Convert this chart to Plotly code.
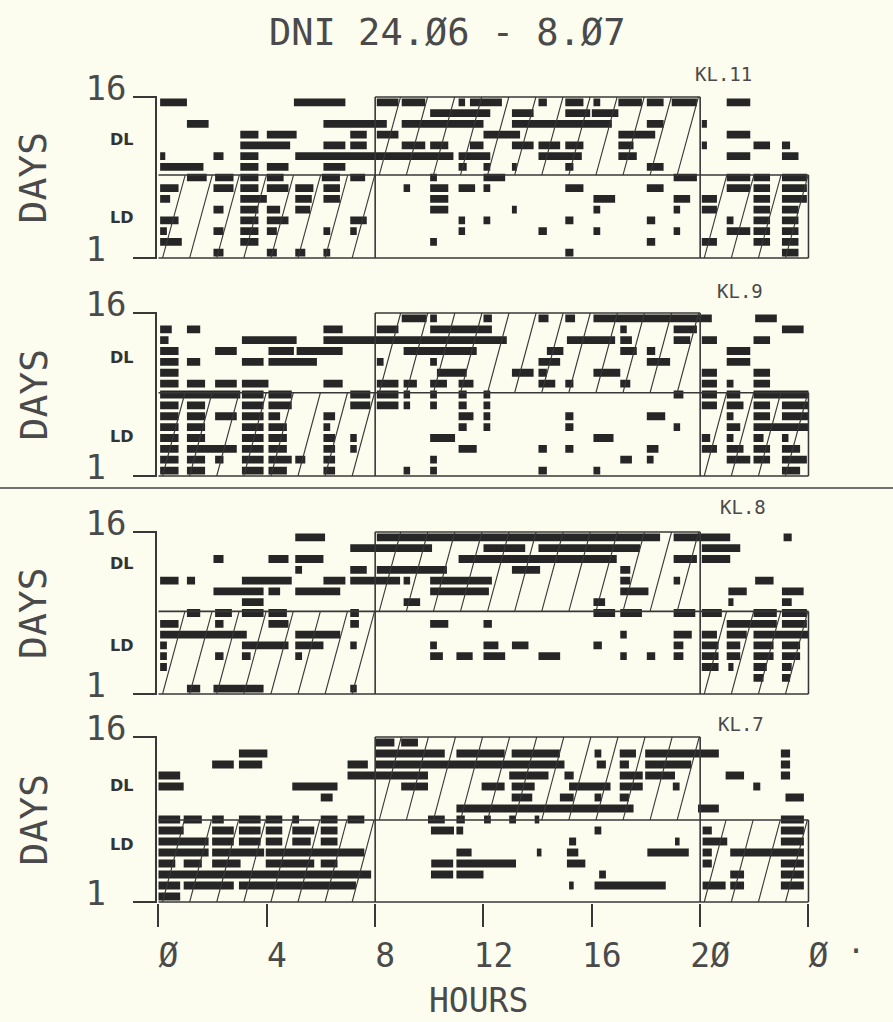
import math
import plotly.graph_objects as go

# ---------------- data ----------------
HOUR_TICKS = [0, 4, 8, 12, 16, 20, 24]
HOUR_LABELS = ["Ø", "4", "8", "12", "16", "2Ø", "Ø"]
DAY_TICKS = [1, 16]
DAY_LABELS = ["1\u00a0", "16"]
TITLE = "DNI 24.Ø6 - 8.Ø7"
PANEL_NAMES = ["KL.11", "KL.9", "KL.8", "KL.7"]
DL_DARK = (8, 20)            # dark hours during DL phase
LD_DARK = [(0, 8), (20, 24)]  # dark hours during LD phase
SWITCH_DAY = [8.73, 8.66, 8.65, 8.45]   # LD -> DL change (day axis)

# activity bouts per day (day 1 first): [start_hour, end_hour]
KL11 = [
    [[2.03, 2.4], [4.0, 4.37], [5.05, 5.42], [6.09, 6.34], [15.02, 15.32], [23.02, 23.63]],
    [[0.06, 0.86], [3.02, 3.69], [10.03, 10.28], [18.03, 18.34], [20.06, 20.62], [21.97, 22.58], [23.02, 23.63]],
    [[0.06, 0.31], [2.03, 2.4], [3.02, 3.69], [4.0, 4.37], [6.09, 6.34], [7.08, 7.32], [11.08, 11.32], [14.03, 14.34], [16.06, 16.31], [19.02, 19.26], [20.98, 21.85], [21.97, 22.58], [23.02, 23.63]],
    [[0.06, 0.74], [3.02, 3.69], [4.0, 4.8], [7.08, 7.69], [11.08, 11.32], [12.0, 12.25], [15.02, 15.32], [18.03, 18.34], [20.98, 21.23], [21.97, 22.58], [23.02, 23.63]],
    [[2.03, 2.4], [3.02, 3.69], [4.0, 4.49], [5.05, 5.6], [10.03, 10.7], [13.05, 13.23], [16.06, 16.31], [19.02, 19.26], [20.06, 20.62], [21.97, 22.58], [23.02, 23.63]],
    [[0.06, 0.43], [3.02, 4.0], [5.05, 5.66], [6.09, 6.7], [10.03, 10.7], [16.06, 16.86], [19.02, 19.63], [20.06, 20.62], [21.97, 22.58], [23.02, 23.94]],
    [[0.06, 0.74], [2.03, 2.77], [3.02, 3.69], [4.0, 4.8], [5.05, 5.72], [6.09, 6.7], [9.05, 9.29], [10.03, 10.7], [11.08, 11.69], [12.0, 12.25], [15.02, 15.69], [18.03, 18.65], [20.98, 21.85], [21.97, 22.58], [23.02, 23.94]],
    [[1.05, 1.78], [2.09, 2.77], [3.02, 3.69], [4.0, 4.62], [6.03, 6.7], [7.08, 7.63], [10.03, 10.28], [12.0, 12.8], [19.02, 19.88], [20.98, 21.85], [21.97, 22.58], [23.02, 23.94]],
    [[0.06, 1.66], [3.02, 3.69], [4.0, 4.8], [6.09, 6.9], [11.08, 11.38], [12.0, 12.25], [13.05, 13.23], [15.02, 15.32], [18.03, 18.65]],
    [[0.06, 0.25], [2.03, 2.4], [3.02, 3.69], [5.05, 10.89], [11.08, 12.25], [14.03, 15.63], [16.98, 17.66], [20.98, 21.85], [23.02, 23.63]],
    [[3.02, 4.86], [6.09, 6.9], [7.08, 7.69], [8.98, 9.85], [10.03, 10.7], [11.5, 12.0], [13.05, 13.85], [14.03, 14.83], [15.02, 15.69], [16.98, 17.54], [20.06, 20.25], [21.97, 22.58], [23.02, 23.32]],
    [[3.02, 3.69], [4.0, 5.1], [7.08, 7.69], [8.06, 8.86], [12.0, 13.35], [16.98, 18.34], [20.98, 21.85]],
    [[1.05, 1.85], [6.09, 8.43], [8.98, 12.0], [13.05, 16.74], [18.03, 18.65], [20.06, 20.25]],
    [[10.03, 12.25], [13.05, 13.85], [15.02, 15.94], [16.0, 16.98]],
    [[0.06, 1.05], [5.0, 6.9], [8.06, 8.86], [8.98, 9.85], [11.08, 11.32], [11.5, 12.68], [14.03, 14.34], [15.02, 15.69], [16.06, 16.31], [16.98, 17.85], [18.03, 18.65], [18.95, 19.88], [20.98, 21.85]],
]

KL9 = [
    [[0.06, 0.74], [1.05, 1.72], [3.08, 3.88], [4.06, 4.74], [6.09, 6.52], [9.05, 9.29], [10.03, 10.28], [14.03, 14.34], [16.06, 16.31], [23.02, 23.69]],
    [[0.06, 0.74], [1.05, 1.72], [2.09, 2.4], [3.08, 3.88], [4.06, 4.92], [5.05, 5.42], [6.09, 6.52], [10.03, 10.28], [17.05, 17.48], [18.03, 18.28], [20.98, 21.85], [21.97, 22.58], [23.02, 23.94]],
    [[0.06, 0.74], [1.05, 2.89], [3.08, 3.88], [4.06, 4.74], [6.09, 6.52], [7.08, 7.32], [11.08, 11.75], [14.03, 14.34], [15.02, 15.32], [18.03, 18.46], [20.06, 20.62], [20.98, 21.6], [21.97, 22.58], [23.02, 23.69]],
    [[0.06, 0.74], [1.05, 1.72], [3.08, 3.88], [4.06, 4.74], [6.09, 6.52], [7.08, 7.32], [10.03, 10.95], [16.06, 16.8], [20.06, 20.37], [20.98, 21.23], [21.97, 22.34], [23.02, 23.26]],
    [[0.06, 0.74], [1.05, 1.72], [3.08, 3.88], [4.06, 4.74], [6.09, 6.34], [11.08, 11.38], [12.0, 12.25], [15.02, 15.32], [19.02, 19.26], [20.98, 21.48], [21.97, 24.0]],
    [[0.06, 0.74], [1.05, 1.72], [2.09, 2.89], [3.08, 3.88], [4.06, 4.49], [6.09, 6.52], [11.08, 11.63], [12.0, 12.25], [15.02, 15.32], [18.03, 18.71], [20.98, 21.23], [21.97, 22.58], [23.02, 24.0]],
    [[0.06, 0.74], [1.05, 1.72], [3.08, 3.88], [4.06, 4.92], [7.08, 7.82], [8.06, 8.86], [9.05, 9.29], [10.03, 10.28], [11.08, 11.38], [12.0, 12.25], [20.06, 20.62], [20.98, 21.6], [21.97, 22.58], [23.02, 24.0]],
    [[0.06, 3.02], [3.08, 3.88], [4.06, 4.92], [7.08, 7.82], [8.06, 8.86], [9.05, 9.29], [10.03, 10.28], [11.08, 11.38], [12.0, 12.25], [19.02, 19.38], [20.06, 20.62], [20.98, 21.48], [21.97, 24.0]],
    [[0.06, 0.74], [1.05, 1.72], [2.09, 2.89], [3.08, 4.06], [6.09, 6.8], [8.06, 8.86], [9.05, 9.54], [10.03, 10.65], [11.08, 11.63], [14.03, 14.65], [15.02, 15.32], [17.05, 17.42], [20.06, 20.62], [20.98, 21.23], [21.97, 22.58]],
    [[0.06, 0.74], [10.28, 11.38], [13.05, 13.85], [14.03, 14.34], [16.06, 17.05], [20.06, 20.62], [21.97, 22.58]],
    [[0.06, 0.74], [1.05, 1.54], [3.08, 3.88], [4.06, 5.85], [8.06, 8.31], [10.03, 10.28], [14.03, 14.83], [18.03, 18.89], [20.98, 21.85]],
    [[0.06, 0.74], [2.09, 2.89], [4.06, 5.0], [5.1, 6.8], [9.05, 11.75], [14.34, 14.95], [17.05, 17.66], [18.03, 18.34], [20.98, 21.85]],
    [[0.06, 0.37], [3.08, 5.1], [6.09, 12.86], [15.08, 16.86], [17.05, 17.48], [19.02, 19.63], [20.06, 20.62], [21.97, 22.58]],
    [[0.06, 0.49], [1.05, 1.54], [6.09, 6.8], [8.06, 8.86], [10.03, 12.31], [17.05, 17.29], [19.02, 19.88], [23.02, 23.82]],
    [[8.98, 9.9], [10.03, 10.28], [12.0, 12.31], [14.03, 14.4], [15.02, 15.38], [16.06, 20.43], [22.03, 22.83]],
]

KL8 = [
    [[1.05, 1.54], [2.03, 3.88], [7.08, 7.32]],
    [[21.97, 22.34], [23.02, 23.32]],
    [[0.06, 0.31], [20.06, 20.68], [21.04, 21.23], [21.97, 22.46], [23.02, 23.38]],
    [[0.06, 0.31], [2.09, 2.4], [3.08, 3.4], [5.05, 5.3], [10.03, 10.5], [11.0, 11.6], [12.0, 12.8], [14.03, 14.83], [17.05, 17.29], [18.03, 18.34], [19.02, 19.38], [20.06, 20.68], [20.98, 21.48], [21.97, 22.71], [23.02, 23.69]],
    [[0.06, 0.31], [3.08, 4.8], [5.05, 6.09], [7.08, 7.32], [10.03, 10.28], [12.0, 12.55], [13.05, 13.66], [16.06, 16.37], [19.02, 19.38], [20.06, 20.68], [20.98, 21.48], [21.97, 22.71], [23.02, 23.69]],
    [[0.06, 3.26], [5.05, 6.71], [17.05, 17.29], [19.02, 19.69], [20.06, 20.62], [20.98, 21.72], [21.97, 24.0]],
    [[0.06, 0.74], [2.09, 2.4], [4.06, 4.8], [7.08, 7.4], [10.03, 10.7], [12.0, 12.31], [20.98, 22.83], [23.02, 23.94]],
    [[1.05, 1.54], [2.09, 2.71], [3.08, 3.88], [4.06, 4.74], [7.08, 7.4], [16.06, 16.86], [17.05, 17.85], [19.02, 19.82], [20.06, 20.8], [21.97, 22.83], [23.02, 23.94]],
    [[3.08, 3.88], [9.05, 9.66], [16.06, 16.49], [21.04, 21.23], [23.02, 23.38]],
    [[2.03, 3.88], [4.06, 4.49], [5.05, 6.71], [10.03, 12.2], [17.05, 18.09], [21.04, 21.72], [23.02, 23.82]],
    [[0.06, 0.74], [1.05, 1.35], [3.08, 4.92], [6.09, 6.9], [7.08, 8.92], [9.05, 9.29], [10.03, 12.31], [17.05, 17.42], [19.02, 19.26], [22.03, 22.71]],
    [[5.05, 5.3], [7.08, 7.69], [8.06, 10.65], [13.05, 14.09], [17.05, 17.42]],
    [[2.03, 2.4], [4.06, 4.8], [5.05, 6.09], [11.08, 16.92], [19.02, 19.88], [20.06, 21.11]],
    [[7.08, 10.1], [12.0, 13.54], [14.03, 17.78], [20.06, 21.48]],
    [[5.05, 6.15], [8.06, 18.52], [19.02, 21.11], [23.08, 23.38]],
]

KL7 = [
    [[0.0, 0.8]],
    [[0.0, 0.8], [0.93, 2.78], [2.97, 7.29], [15.16, 15.33], [16.1, 18.73], [20.09, 20.94], [21.11, 21.62], [22.98, 23.83]],
    [[0.0, 7.85], [10.06, 10.88], [11.0, 12.0], [16.27, 16.52], [21.11, 21.62], [22.98, 23.83]],
    [[0.0, 0.62], [0.93, 1.6], [1.98, 3.03], [3.96, 5.75], [5.99, 6.61], [10.07, 10.88], [11.0, 13.2], [15.08, 15.76], [20.09, 20.43], [22.98, 23.83]],
    [[0.0, 1.85], [1.98, 3.9], [3.96, 7.6], [11.0, 11.56], [13.97, 14.14], [15.08, 15.5], [18.05, 19.58], [20.09, 20.43], [21.11, 23.83]],
    [[0.0, 1.85], [1.98, 2.78], [2.97, 3.77], [3.96, 4.57], [4.94, 5.62], [5.99, 6.61], [15.16, 15.42], [19.07, 19.24], [20.09, 21.0], [22.98, 23.83]],
    [[0.0, 0.93], [1.98, 2.78], [2.97, 3.77], [3.96, 4.57], [4.94, 5.75], [5.99, 6.61], [10.06, 10.91], [11.0, 11.25], [16.1, 16.35], [20.09, 20.43], [22.98, 23.83]],
    [[0.0, 0.8], [0.93, 1.6], [1.98, 2.41], [2.97, 3.77], [3.96, 4.57], [4.94, 5.19], [5.99, 6.61], [6.98, 7.6], [9.95, 10.57], [11.0, 11.31], [12.02, 12.27], [12.95, 13.2], [13.89, 14.06], [22.98, 23.83]],
    [[11.0, 17.54], [19.92, 20.69]],
    [[5.99, 6.43], [13.04, 13.8], [14.82, 15.33], [16.1, 16.35], [17.03, 17.37], [23.15, 23.83]],
    [[0.0, 0.93], [4.94, 6.61], [8.96, 9.95], [11.93, 12.78], [13.04, 13.89], [15.16, 16.69], [17.03, 17.88], [18.99, 19.24], [21.96, 22.22]],
    [[0.0, 0.8], [6.98, 9.95], [12.95, 14.4], [14.99, 15.33], [17.03, 17.88], [17.97, 19.07], [20.94, 21.62], [22.98, 23.32]],
    [[1.98, 2.78], [2.97, 3.83], [6.98, 7.73], [8.0, 14.99], [16.18, 16.52], [17.03, 17.37], [17.97, 19.67], [22.98, 23.32]],
    [[2.97, 4.02], [8.0, 10.57], [11.0, 12.78], [13.04, 14.82], [16.1, 16.35], [17.03, 17.63], [17.97, 20.69], [22.98, 23.32]],
    [[8.0, 8.71], [8.96, 9.58]],
]

PANELS = [KL11, KL9, KL8, KL7]

# ---------------- style / layout ----------------
W, H = 893, 1022
BG = "#fcfcef"
INK = "#262626"
LINE = "#383838"
TXT = "#4a4a4a"
MONO = "DejaVu Sans Mono"

PANEL_PX = [(97, 258), (313, 476), (532, 694), (737, 902)]  # y=16 px, y=1 px
X0_PX, X1_PX = 158.5, 808.5
YPAD, XPAD = 0.1, 0.05
YR = [DAY_TICKS[0] - YPAD, DAY_TICKS[-1] + YPAD]
XR = [HOUR_TICKS[0] - XPAD, HOUR_TICKS[-1] + XPAD]

sx = (X1_PX - X0_PX) / (XR[1] - XR[0] - 2 * XPAD)
xdom = [(X0_PX - XPAD * sx) / W, (X1_PX + XPAD * sx) / W]

DL_LABEL_Y = [12.0, 11.95, 13.1, 11.6]
LD_LABEL_Y = [4.8, 4.6, 5.5, 6.2]
KL_POS = [(723, 74), (740, 291), (743, 507), (741, 724)]


def hatch(x0, x1, y0, y1, k=0.108, step=1.0, phase=0.15):
    xs, ys = [], []
    h = y1 - y0
    b = x0 + phase - step * math.ceil(k * h / step + 1)
    while b < x1:
        ya, yb = y0, y1
        if b < x0:
            ya = y0 + (x0 - b) / k
        if b + k * h > x1:
            yb = y0 + (x1 - b) / k
        if yb > ya:
            xs += [b + k * (ya - y0), b + k * (yb - y0), None]
            ys += [ya, yb, None]
        b += step
    return xs, ys


def ann(text, x, y, size, xref="paper", yref="paper", family=MONO, color=TXT, angle=0):
    return dict(text=text, xref=xref, yref=yref, x=x, y=y, showarrow=False,
                xanchor="center", yanchor="middle", textangle=angle,
                font=dict(family=family, size=size, color=color))


fig = go.Figure()
shapes = []
annotations = []
layout_axes = {}

for p, rows in enumerate(PANELS):
    n = p + 1
    yname = "y" if n == 1 else f"y{n}"
    ykey = "yaxis" if n == 1 else f"yaxis{n}"
    top_px, bot_px = PANEL_PX[p]
    sy = (bot_px - top_px) / (DAY_TICKS[-1] - DAY_TICKS[0])
    ydom = [1 - (bot_px + YPAD * sy) / H, 1 - (top_px - YPAD * sy) / H]
    b = SWITCH_DAY[p]

    # hatched dark regions
    hx, hy = [], []
    for (a0, a1) in LD_DARK:
        xs, ys = hatch(a0, a1, DAY_TICKS[0], b)
        hx += xs; hy += ys
    xs, ys = hatch(DL_DARK[0], DL_DARK[1], b, DAY_TICKS[-1])
    hx += xs; hy += ys
    fig.add_trace(go.Scatter(x=hx, y=hy, mode="lines", line=dict(color=LINE, width=1.1),
                             xaxis="x", yaxis=yname, hoverinfo="skip", showlegend=False))

    # activity bars
    ys_, bases, lens = [], [], []
    for i, segs in enumerate(rows):
        day = i + 1
        for s, e in segs:
            ys_.append(day + 0.5)
            bases.append(s)
            lens.append(e - s)
    fig.add_trace(go.Bar(x=lens, y=ys_, base=bases, orientation="h", width=0.72,
                         marker=dict(color=INK, line=dict(width=0)),
                         xaxis="x", yaxis=yname, hoverinfo="skip", showlegend=False))

    # frame
    segs = [
        (HOUR_TICKS[0], DAY_TICKS[0], HOUR_TICKS[-1], DAY_TICKS[0]),
        (HOUR_TICKS[0], b, HOUR_TICKS[-1], b),
        (DL_DARK[0], DAY_TICKS[0], DL_DARK[0], DAY_TICKS[-1]),
        (DL_DARK[1], DAY_TICKS[0], DL_DARK[1], DAY_TICKS[-1]),
        (DL_DARK[0], DAY_TICKS[-1], DL_DARK[1], DAY_TICKS[-1]),
        (HOUR_TICKS[-1], DAY_TICKS[0], HOUR_TICKS[-1], b),
    ]
    for (x0, y0, x1, y1) in segs:
        shapes.append(dict(type="line", xref="x", yref=yname, x0=x0, y0=y0, x1=x1, y1=y1,
                           line=dict(color=LINE, width=1.6), layer="above"))

    layout_axes[ykey] = dict(
        domain=ydom, range=YR, anchor="x", showgrid=False, zeroline=False,
        showline=True, linecolor=LINE, linewidth=1.6,
        ticks="outside", ticklen=22, tickwidth=1.6, tickcolor=LINE,
        tickvals=DAY_TICKS, ticktext=DAY_LABELS, ticklabelshift=-9,
        tickfont=dict(family=MONO, size=34, color=TXT), fixedrange=True,
    )

    # labels
    annotations.append(ann("DAYS", 33 / W, 0.5, 38, yref=f"{yname} domain", angle=-90))
    annotations.append(ann("<b>DL</b>", 122 / W, DL_LABEL_Y[p], 16, yref=yname,
                           family="DejaVu Sans", color="#333"))
    annotations.append(ann("<b>LD</b>", 122 / W, LD_LABEL_Y[p], 16, yref=yname,
                           family="DejaVu Sans", color="#333"))
    kx, ky = KL_POS[p]
    annotations.append(ann(PANEL_NAMES[p], kx / W, 1 - ky / H, 19))

annotations.append(ann(TITLE, 447 / W, 1 - 33 / H, 37))
annotations.append(ann("HOURS", 478 / W, 1 - 1000 / H, 33))
annotations.append(ann("·", 856 / W, 1 - 950 / H, 30))

# separator between the two pairs of panels
shapes.append(dict(type="line", xref="paper", yref="paper", x0=0, x1=1,
                   y0=1 - 488 / H, y1=1 - 488 / H, line=dict(color="#444", width=1.6)))

fig.update_layout(
    width=W, height=H, template="none",
    paper_bgcolor=BG, plot_bgcolor="rgba(0,0,0,0)",
    margin=dict(l=0, r=0, t=0, b=0), barmode="overlay", showlegend=False,
    xaxis=dict(domain=xdom, range=XR, anchor="y4", showgrid=False, zeroline=False,
               showline=False, ticks="outside", ticklen=23, tickwidth=1.6, tickcolor=LINE,
               tickvals=HOUR_TICKS, ticktext=HOUR_LABELS, ticklabelshift=10,
               ticklabelstandoff=0, tickfont=dict(family=MONO, size=33, color=TXT),
               fixedrange=True),
    shapes=shapes, annotations=annotations,
    **layout_axes,
)

fig.write_html("out.html")
